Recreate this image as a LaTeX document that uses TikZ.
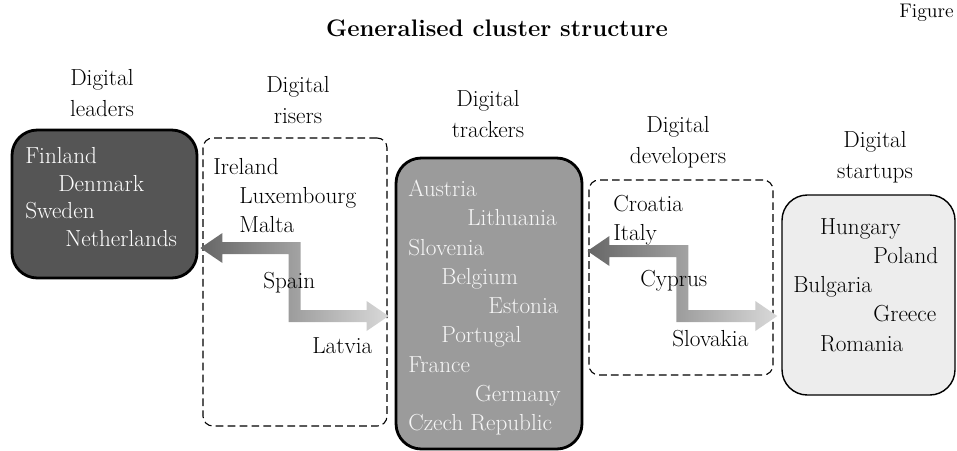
\documentclass[tikz,border=0pt]{standalone}
\usetikzlibrary{calc,fit,positioning}
\definecolor{leaderfill}{HTML}{555555}
\definecolor{trackerfill}{HTML}{9B9B9B}
\definecolor{startupfill}{HTML}{EDEDED}
\definecolor{trackertext}{HTML}{F6F6F6}
\definecolor{flowdark}{HTML}{666666}
\definecolor{flowlight}{HTML}{D9D9D9}
% shaded double arrow: left tip #1, right tip #2, step in the middle
\newcommand{\flowarrow}[2]{%
  \coordinate (#1m) at ($(#1)!0.5!(#2)$);
  \shade[left color=flowdark, right color=flowlight]
    (#1) -- ($(#1)+(22,-15)$) -- ($(#1)+(22,-6)$) -- ($(#1m |- #1)+(6,-6)$)
    -- ($(#1m |- #2)+(6,-6)$) -- ($(#2)+(-22,-6)$) -- ($(#2)+(-22,-15)$)
    -- (#2) -- ($(#2)+(-22,15)$) -- ($(#2)+(-22,6)$) -- ($(#1m |- #2)+(-6,6)$)
    -- ($(#1m |- #1)+(-6,6)$) -- ($(#1)+(22,6)$) -- ($(#1)+(22,15)$) -- cycle;
}
\begin{document}
\begin{tikzpicture}[x=0.025cm, y=-0.025cm,
  every node/.style={font=\fontsize{16.5}{22}\selectfont},
  solidbox/.style={draw, line width=2pt, rounded corners=18pt, inner sep=0pt},
  dashbox/.style={draw, dash pattern=on 5.5pt off 3pt, line width=0.8pt, rounded corners=7pt, inner sep=0pt},
  countries/.style={align=left, inner sep=0pt, anchor=north west, font=\fontsize{16.5}{20.8}\selectfont},
  heading/.style={align=center, inner sep=0pt}]
\useasboundingbox (0,0) rectangle (957,450);
% title
\node[font=\fontsize{17}{20}\selectfont\bfseries, anchor=base, inner sep=0pt] (title) at (497,36) {Generalised cluster structure};
\node[anchor=base east, inner sep=0pt, font=\fontsize{14}{16}\selectfont] (fig) at (954,17) {Figure};
% cluster boxes
\node[solidbox, fill=leaderfill, fit={(12,130) (197,278)}] (leaders) {};
\node[dashbox, fit={(203,138) (387,426)}] (risers) {};
\node[solidbox, fill=trackerfill, fit={(396,158) (582,449)}] (trackers) {};
\node[dashbox, fit={(589,180) (773,375)}] (developers) {};
\node[solidbox, line width=1pt, fill=startupfill, fit={(782,195) (955,395)}] (startups) {};
% headings
\node[heading] (leadershd) at (102,93) {Digital\\leaders};
\node[heading] (risershd) at (298,100) {Digital\\risers};
\node[heading] (trackershd) at (488,114) {Digital\\trackers};
\node[heading] (developershd) at (678,142) {Digital\\developers};
\node[heading] (startupshd) at (875,157) {Digital\\startups};
% moves between clusters
\coordinate (rA) at ($(leaders.east |- 0,248)+(2,0)$);
\coordinate (rB) at ($(trackers.west |- 0,316)+(-6,0)$);
\coordinate (dA) at ($(trackers.east |- 0,251)+(4,0)$);
\coordinate (dB) at ($(startups.west |- 0,316)+(-4,0)$);
\flowarrow{rA}{rB}
\flowarrow{dA}{dB}
% member countries
\node[countries, text=white, font=\fontsize{16.5}{19.7}\selectfont] (leaderlist) at (25,147)
  {Finland\\\hspace*{23.5pt}Denmark\\Sweden\\\hspace*{28.5pt}Netherlands};
\node[countries] (riserlist) at (213,158)
  {Ireland\\\hspace*{18.5pt}Luxembourg\\\hspace*{18.5pt}Malta};
\node[countries] (spain) at (263,272) {Spain};
\node[countries] (latvia) at (312,337) {Latvia};
\node[countries, text=trackertext] (trackerlist) at (408,180)
  {Austria\\\hspace*{42pt}Lithuania\\Slovenia\\\hspace*{23.5pt}Belgium\\\hspace*{57pt}Estonia\\\hspace*{23.5pt}Portugal\\France\\\hspace*{47.5pt}Germany\\Czech Republic};
\node[countries] (devlist) at (613,195) {Croatia\\Italy};
\node[countries] (cyprus) at (640,270) {Cyprus};
\node[countries] (slovakia) at (672,330) {Slovakia};
\node[countries] (startuplist) at (793,218)
  {\hspace*{19pt}Hungary\\\hspace*{57pt}Poland\\Bulgaria\\\hspace*{57pt}Greece\\\hspace*{19pt}Romania};
\end{tikzpicture}
\end{document}
